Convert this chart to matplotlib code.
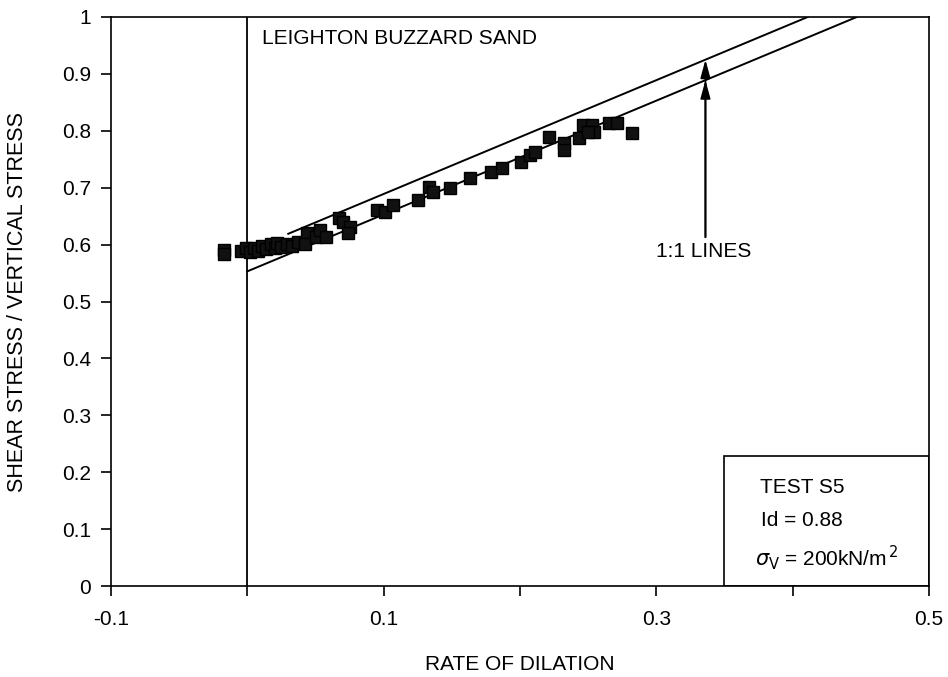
import matplotlib
matplotlib.use("Agg")
import matplotlib.pyplot as plt
from matplotlib.patches import Rectangle

plt.rcParams['font.family'] = ['Liberation Sans', 'DejaVu Sans']

# Measured rate of dilation vs. stress ratio (test S5)
dilation = [-0.017, -0.017, -0.005, -0.001, 0.002, 0.005, 0.008, 0.011, 0.014,
            0.017, 0.020, 0.022, 0.025, 0.029, 0.033, 0.037, 0.044, 0.042,
            0.050, 0.053, 0.058, 0.067, 0.070, 0.075, 0.074, 0.095, 0.101,
            0.107, 0.125, 0.133, 0.136, 0.149, 0.163, 0.179, 0.187, 0.201,
            0.207, 0.211, 0.221, 0.232, 0.232, 0.243, 0.246, 0.253, 0.254,
            0.250, 0.265, 0.271, 0.282]
stress_ratio = [0.590, 0.583, 0.589, 0.594, 0.587, 0.594, 0.589, 0.598, 0.592,
                0.601, 0.594, 0.603, 0.596, 0.601, 0.598, 0.605, 0.620, 0.601,
                0.613, 0.626, 0.613, 0.647, 0.640, 0.631, 0.620, 0.661, 0.657,
                0.670, 0.678, 0.701, 0.692, 0.699, 0.717, 0.728, 0.735, 0.745,
                0.757, 0.763, 0.789, 0.779, 0.766, 0.787, 0.810, 0.810, 0.798,
                0.798, 0.814, 0.814, 0.796]

# 1:1 reference lines (slope 1): intercept and x-range
line_intercepts = [0.589, 0.553]
line_x_start = [0.03, 0.0]

x_ticks = [-0.1, 0.0, 0.1, 0.2, 0.3, 0.4, 0.5]
x_tick_labels = ['-0.1', '', '0.1', '', '0.3', '', '0.5']
y_ticks = [0, 0.1, 0.2, 0.3, 0.4, 0.5, 0.6, 0.7, 0.8, 0.9, 1.0]
y_tick_labels = ['0', '0.1', '0.2', '0.3', '0.4', '0.5', '0.6', '0.7', '0.8', '0.9', '1']

FS = 15

fig = plt.figure(figsize=(9.48, 6.77), dpi=100)
ax = fig.add_axes([0.1171, 0.1344, 0.8629, 0.8405])
ax.set_xlim(-0.1, 0.5)
ax.set_ylim(0, 1)

# reference lines, clipped at the top of the plot
for b, x0 in zip(line_intercepts, line_x_start):
    x1 = 1.0 - b
    ax.plot([x0, x1], [x0 + b, 1.0], color='black', lw=1.4, zorder=2)

ax.axvline(0.0, color='black', lw=1.3, zorder=2)

ax.plot(dilation, stress_ratio, linestyle='none', marker='s', markersize=8,
        color='#111111', markeredgecolor='black', zorder=3)

# arrows pointing at the two 1:1 lines
x_arr = 0.336
for b in line_intercepts:
    ax.annotate('', xy=(x_arr, x_arr + b), xytext=(x_arr, 0.613),
                arrowprops=dict(arrowstyle='-|>,head_length=1.1,head_width=0.3',
                                color='black', lw=1.3, shrinkA=0, shrinkB=0))
ax.text(0.335, 0.588, '1:1 LINES', ha='center', va='center', fontsize=FS)

ax.text(0.011, 0.963, 'LEIGHTON BUZZARD SAND', ha='left', va='center', fontsize=FS)

# test information box
ax.add_patch(Rectangle((0.749, 0.0), 0.251, 0.228, transform=ax.transAxes,
                       fill=False, edgecolor='black', lw=1.2, zorder=4))
ax.text(0.793, 0.173, 'TEST S5', transform=ax.transAxes, ha='left', va='center', fontsize=FS)
ax.text(0.795, 0.116, 'Id = 0.88', transform=ax.transAxes, ha='left', va='center', fontsize=FS)
ax.text(0.787, 0.050, r'$\sigma_{\mathrm{V}}$ = 200kN/m$^{\,2}$', transform=ax.transAxes,
        ha='left', va='center', fontsize=FS)

ax.set_xticks(x_ticks)
ax.set_xticklabels(x_tick_labels)
ax.set_yticks(y_ticks)
ax.set_yticklabels(y_tick_labels)
ax.tick_params(axis='x', direction='out', length=7, width=1.2, pad=10, labelsize=FS)
ax.tick_params(axis='y', direction='out', length=7.5, width=1.2, pad=7, labelsize=FS)
for s in ax.spines.values():
    s.set_linewidth(1.2)

ax.set_xlabel('RATE OF DILATION', fontsize=FS)
ax.set_ylabel('SHEAR STRESS / VERTICAL STRESS', fontsize=15.5)
ax.xaxis.set_label_coords(0.5, -0.122)
ax.yaxis.set_label_coords(-0.101, 0.5)

fig.savefig('out.png', dpi=100)
